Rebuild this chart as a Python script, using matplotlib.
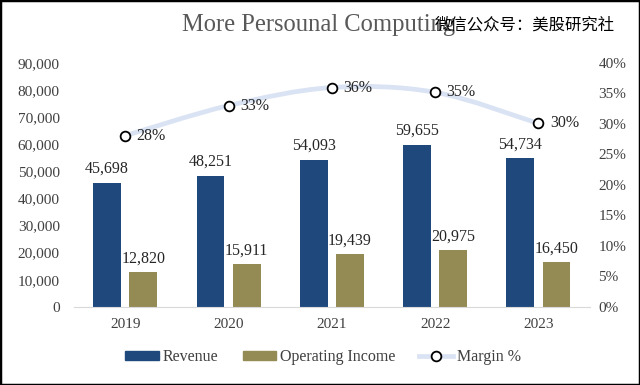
import matplotlib
matplotlib.use("Agg")
import matplotlib.pyplot as plt
import numpy as np
from matplotlib.path import Path
from matplotlib.patches import PathPatch, Patch, Rectangle
from matplotlib.lines import Line2D
from matplotlib.ticker import FuncFormatter, MultipleLocator

years = ["2019", "2020", "2021", "2022", "2023"]
revenue = [45698, 48251, 54093, 59655, 54734]
operating_income = [12820, 15911, 19439, 20975, 16450]
margin = [0.2805, 0.3298, 0.3594, 0.3516, 0.3005]
margin_labels = ["28%", "33%", "36%", "35%", "30%"]

SERIF = ["Liberation Serif", "DejaVu Serif"]
plt.rcParams["font.family"] = SERIF

fig = plt.figure(figsize=(6.4, 3.85), dpi=100)
ax = fig.add_axes([0.115, 0.203, 0.807, 0.634])
ax2 = ax.twinx()

x = np.arange(len(years))
w = 0.27
off = 0.175
c_rev = "#1f497d"
c_oi = "#948a54"
c_line = "#dae3f3"

ax.bar(x - off, revenue, w, color=c_rev, zorder=2)
ax.bar(x + off, operating_income, w, color=c_oi, zorder=2)
for xi, v in zip(x, revenue):
    ax.text(xi - off, v + 2300, f"{v:,}", ha="center", va="bottom", fontsize=11.5, color="#262626")
for xi, v in zip(x, operating_income):
    ax.text(xi + off, v + 1900, f"{v:,}", ha="center", va="bottom", fontsize=11.5, color="#262626")

ax.set_xlim(-0.5, len(years) - 0.5)
ax.set_ylim(0, 90000)
ax.yaxis.set_major_locator(MultipleLocator(10000))
ax.yaxis.set_major_formatter(FuncFormatter(lambda v, p: f"{int(v):,}"))
ax.set_xticks(x)
ax.set_xticklabels(years)

ax2.set_ylim(0, 0.40)
ax2.yaxis.set_major_locator(MultipleLocator(0.05))
ax2.yaxis.set_major_formatter(FuncFormatter(lambda v, p: f"{int(round(v*100))}%"))

# smooth line (Catmull-Rom to Bezier)
pts = np.column_stack([x.astype(float), margin])
verts = [tuple(pts[0])]
codes = [Path.MOVETO]
n = len(pts)
for i in range(n - 1):
    p0 = pts[i - 1] if i > 0 else pts[i]
    p1 = pts[i]
    p2 = pts[i + 1]
    p3 = pts[i + 2] if i + 2 < n else pts[i + 1]
    c1 = p1 + (p2 - p0) / 6.0
    c2 = p2 - (p3 - p1) / 6.0
    verts += [tuple(c1), tuple(c2), tuple(p2)]
    codes += [Path.CURVE4] * 3
ax2.add_patch(PathPatch(Path(verts, codes), facecolor="none", edgecolor=c_line, lw=3.4, zorder=3,
                        capstyle="round"))
ax2.plot(x, margin, linestyle="none", marker="o", markersize=7, markerfacecolor="white",
         markeredgecolor="black", markeredgewidth=1.3, zorder=4)
for xi, v, lab in zip(x, margin, margin_labels):
    ax2.text(xi + 0.11, v, lab, ha="left", va="center", fontsize=11.5, color="#262626", zorder=5)

for a in (ax, ax2):
    for s in ["top", "left", "right"]:
        a.spines[s].set_visible(False)
    a.tick_params(length=0, labelsize=11, colors="#404040")
ax2.spines["bottom"].set_visible(False)
ax.spines["bottom"].set_color("#d9d9d9")
ax.tick_params(axis="x", pad=8)
ax.tick_params(axis="y", pad=10)
ax2.tick_params(axis="y", pad=6)

fig.text(0.4985, 0.935, "More Persounal Computing", ha="center", va="center", fontsize=17.7,
         color="#595959")
fig.text(0.68, 0.935, "微信公众号：美股研究社", ha="left", va="center", fontsize=11.8,
         color="black", family=["Noto Sans CJK SC", "DejaVu Sans"])

handles = [Patch(color=c_rev), Patch(color=c_oi),
           Line2D([0], [0], color=c_line, lw=3.4, marker="o", markersize=7,
                  markerfacecolor="white", markeredgecolor="black", markeredgewidth=1.3)]
fig.legend(handles, ["Revenue", "Operating Income", "Margin %"], loc="center",
           bbox_to_anchor=(0.505, 0.072), ncol=3, frameon=False, fontsize=11.5,
           handlelength=2.1, handleheight=0.5, handletextpad=0.25, columnspacing=1.5,
           labelcolor="#404040")

fig.patches.append(Rectangle((0, 0), 1, 1, transform=fig.transFigure, fill=False,
                             edgecolor="black", lw=2.5, zorder=10))

fig.savefig("out.png", dpi=100)
